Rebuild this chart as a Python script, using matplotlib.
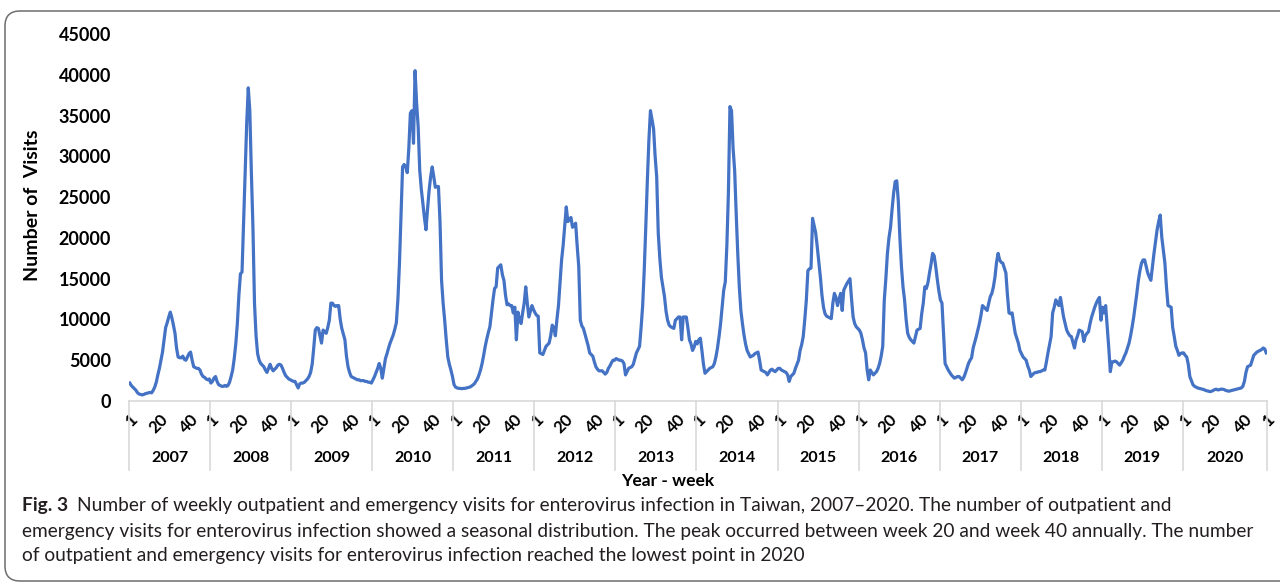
import numpy as np
import matplotlib.pyplot as plt
import matplotlib.transforms as mtransforms
from matplotlib.patches import FancyBboxPatch

plt.rcParams['font.family'] = ['Lato', 'DejaVu Sans']

# weekly outpatient + emergency visits
years = list(range(2007, 2021))

visits_2007 = [2200, 1900, 1700, 1500, 1300, 1000, 850, 800, 750, 800, 900, 950, 1000,
               1050, 1000, 1300, 1700, 2300, 3200, 4000, 5000, 6000, 7500, 9000, 9600, 10300,
               10900, 10200, 9300, 8300, 6500, 5400, 5300, 5300, 5500, 5100, 5000, 5400, 5800,
               6000, 5000, 4200, 4100, 4000, 4000, 3800, 3300, 3000, 2900, 2700, 2600, 2700]
visits_2008 = [2200, 2400, 2800, 3000, 2400, 2000, 1900, 1800, 1800, 1900, 1800, 1900, 2300,
               3000, 3800, 5200, 7000, 9500, 13000, 15600, 15800, 22000, 28000, 34000, 38400, 35600,
               28000, 21300, 12000, 8000, 5800, 5000, 4600, 4400, 4200, 3800, 3500, 4000, 4500,
               4000, 3700, 3900, 4100, 4400, 4500, 4400, 4000, 3500, 3100, 2900, 2700, 2600]
visits_2009 = [2500, 2400, 2400, 2000, 1600, 2100, 2200, 2200, 2300, 2500, 2700, 3000, 3500,
               4500, 6500, 8700, 9000, 8900, 8000, 7100, 8700, 8500, 8300, 9000, 9900, 12000,
               12000, 11700, 11600, 11700, 11700, 10000, 8900, 8200, 7500, 5500, 4200, 3500, 3000,
               2900, 2800, 2700, 2600, 2600, 2500, 2500, 2500, 2400, 2400, 2300, 2300, 2200]
visits_2010 = [2600, 3000, 3500, 4000, 4600, 4000, 2800, 4000, 5200, 5800, 6500, 7100, 7600,
               8100, 8800, 9600, 12500, 16900, 23000, 28700, 29000, 28700, 28000, 31000, 35300, 35600,
               31600, 40500, 36500, 33600, 28300, 26000, 24200, 22500, 21000, 23500, 25800, 27500, 28700,
               27500, 26200, 26300, 26300, 22000, 14800, 12000, 9900, 7500, 5400, 4500, 3800, 3000]
visits_2011 = [2000, 1700, 1600, 1550, 1550, 1500, 1550, 1550, 1600, 1650, 1700, 1800, 1950,
               2100, 2400, 2700, 3200, 3800, 4600, 5600, 6700, 7600, 8400, 9100, 10800, 12400,
               13800, 14000, 16300, 16500, 16700, 15500, 14800, 13000, 11800, 11900, 11700, 11700, 10800,
               11500, 7500, 10900, 10000, 9500, 10800, 12000, 14000, 12000, 10300, 11000, 11700, 11200]
visits_2012 = [10800, 10500, 10400, 5900, 5800, 5700, 6200, 6700, 6900, 7100, 8000, 9300, 9000,
               8000, 10000, 11700, 14500, 17300, 19100, 21500, 23800, 22000, 22300, 22500, 21300, 21500,
               21800, 19000, 16500, 9900, 9200, 8900, 8200, 7500, 6800, 5900, 5700, 5500, 4800,
               4200, 3900, 3700, 3700, 3700, 3500, 3300, 3500, 4000, 4300, 4700, 5000, 5000]
visits_2013 = [5200, 5100, 5000, 5000, 4900, 4600, 3200, 3600, 4000, 4100, 4200, 4500, 5200,
               5900, 6300, 6700, 9000, 11700, 16000, 21300, 27000, 32000, 35600, 34500, 33400, 30000,
               27500, 20600, 17500, 15200, 14000, 12800, 11000, 9900, 9300, 9100, 9000, 8900, 9900,
               10100, 10300, 10300, 7500, 10300, 10300, 10300, 9000, 7500, 7000, 6200, 6600, 7300]
visits_2014 = [7000, 7500, 7700, 6200, 4500, 3400, 3600, 3800, 4000, 4100, 4200, 4600, 5400,
               6500, 7900, 9500, 11500, 13600, 14600, 19000, 25500, 36100, 35600, 31000, 28300, 23000,
               18100, 14000, 11100, 9500, 8100, 7000, 6200, 5800, 5400, 5500, 5600, 5800, 5900,
               6000, 5000, 3800, 3700, 3600, 3500, 3200, 3500, 3800, 3900, 3700, 3600, 3800]
visits_2015 = [4000, 4000, 3800, 3700, 3600, 3500, 3200, 2400, 3000, 3200, 3400, 4000, 4500,
               5000, 6200, 6900, 7900, 10000, 12400, 16000, 16200, 16300, 22400, 21500, 20600, 18900,
               17000, 15200, 13000, 11500, 10700, 10400, 10300, 10200, 10100, 12000, 13200, 12700, 11700,
               12500, 13200, 11100, 13600, 14000, 14400, 14700, 15000, 12500, 10300, 9500, 9100, 8900]
visits_2016 = [8700, 8300, 7500, 6500, 5900, 3800, 2600, 3800, 3500, 3200, 3400, 3600, 4000,
               4600, 5500, 6700, 12400, 15000, 18100, 20000, 21300, 23500, 25500, 26900, 27000, 24500,
               20000, 16500, 14000, 12400, 10000, 8300, 7800, 7500, 7300, 7100, 7900, 8700, 8800,
               8900, 10700, 12000, 14000, 13800, 14500, 15700, 16800, 18100, 17800, 16500, 14900, 13500]
visits_2017 = [12400, 12000, 8300, 4600, 4200, 3800, 3500, 3200, 3000, 2800, 2900, 3000, 3000,
               2800, 2600, 2900, 3400, 4000, 4600, 5000, 5300, 6500, 7200, 7900, 8700, 9500,
               10500, 11700, 11500, 11300, 11100, 12000, 12800, 13200, 14000, 15200, 17000, 18100, 17300,
               17000, 16900, 16300, 15700, 13000, 10800, 10700, 10800, 9500, 8300, 7700, 7100, 6200]
visits_2018 = [5800, 5400, 5200, 5000, 4300, 3800, 3000, 3200, 3400, 3500, 3500, 3600, 3600,
               3700, 3800, 3800, 4800, 5900, 6900, 7900, 10800, 11500, 12400, 12000, 11700, 12700,
               11500, 10300, 9500, 8700, 8300, 8000, 7900, 7200, 6500, 7500, 8000, 8700, 8600,
               8500, 7300, 8000, 8300, 8500, 9500, 10300, 10900, 11500, 12000, 12400, 12700, 9900]
visits_2019 = [11500, 10800, 11700, 9100, 6500, 3600, 4800, 4800, 4900, 4800, 4600, 4400, 4700,
               5000, 5500, 5900, 6500, 7100, 8000, 9100, 10300, 11700, 13200, 14800, 16000, 16900,
               17300, 17300, 16500, 15700, 15200, 14800, 16500, 18100, 19500, 21000, 22000, 22800, 20100,
               18500, 16900, 14000, 11700, 11600, 11500, 9000, 7900, 6700, 6200, 5600, 5800, 5900]
visits_2020 = [5900, 5600, 5400, 4500, 3000, 2500, 2000, 1800, 1700, 1600, 1550, 1500, 1450,
               1400, 1300, 1250, 1200, 1150, 1200, 1300, 1400, 1450, 1350, 1400, 1450, 1450,
               1400, 1300, 1250, 1200, 1250, 1300, 1350, 1400, 1450, 1500, 1550, 1600, 1800,
               2400, 3500, 4200, 4300, 4400, 5000, 5600, 5800, 6000, 6100, 6200, 6300, 6500,
               6400, 5900]

yearly = [visits_2007, visits_2008, visits_2009, visits_2010, visits_2011, visits_2012,
          visits_2013, visits_2014, visits_2015, visits_2016, visits_2017, visits_2018,
          visits_2019, visits_2020]
tick_weeks = [1, 20, 40]
y_ticks = list(range(0, 45001, 5000))

caption_bold = "Fig. 3"
caption_lines = [
    "Number of weekly outpatient and emergency visits for enterovirus infection in Taiwan, 2007\u20132020. The number of outpatient and",
    "emergency visits for enterovirus infection showed a seasonal distribution. The peak occurred between week 20 and week 40 annually. The number",
    "of outpatient and emergency visits for enterovirus infection reached the lowest point in 2020",
]

values = np.concatenate(yearly)
x = np.arange(len(values))
starts = np.cumsum([0] + [len(v) for v in yearly])

W, H = 1280, 584
fig = plt.figure(figsize=(W / 100, H / 100), dpi=100)
ax = fig.add_axes([129 / W, (H - 401) / H, (1267 - 129) / W, (401 - 34) / H])

ax.plot(x, values, color='#4472C4', lw=2.3, solid_joinstyle='round')

ax.set_xlim(-0.5, len(values) - 0.5)
ax.set_ylim(0, 45000)
ax.set_yticks(y_ticks)
ax.set_yticklabels([str(v) for v in y_ticks], fontsize=13, fontweight='bold')
ax.tick_params(axis='y', length=0, pad=13, colors='black')

pos, labs = [], []
for s in starts[:-1]:
    for w in tick_weeks:
        pos.append(s + w - 1)
        labs.append(str(w))
pos.append(len(values) - 1)
labs.append('1')
ax.set_xticks(pos)
ax.set_xticklabels(labs, rotation=45, ha='right', va='top', rotation_mode='anchor',
                   fontsize=12, fontweight='bold')
ax.tick_params(axis='x', length=0, pad=7)

for sp in ['top', 'right', 'left']:
    ax.spines[sp].set_visible(False)
ax.spines['bottom'].set_color('#d9d9d9')
ax.spines['bottom'].set_linewidth(1.2)

trans = mtransforms.blended_transform_factory(ax.transData, ax.transAxes)
for b in starts:
    ax.plot([b - 0.5, b - 0.5], [0, -0.188], transform=trans, color='#d9d9d9',
            lw=1.2, clip_on=False)
for i, yr in enumerate(years):
    ax.text((starts[i] + starts[i + 1] - 1) / 2, -0.155, str(yr), transform=trans,
            ha='center', va='center', fontsize=11.5, fontweight='bold')

fig.text(668 / W, 1 - 481 / H, 'Year - week', ha='center', va='center',
         fontsize=12.5, fontweight='bold')
fig.text(33 / W, 1 - 205 / H, 'Number of  Visits', rotation=90, ha='center',
         va='center', fontsize=14, fontweight='bold')

# caption
cap_color = '#231f20'
cap_size = 13.8
t = fig.text(22 / W, 1 - 506 / H, caption_bold, ha='left', va='center',
             fontsize=cap_size, fontweight='bold', color=cap_color)
fig.canvas.draw()
bb = t.get_window_extent(fig.canvas.get_renderer())
fig.text((bb.x1 + 9) / W, 1 - 506 / H, caption_lines[0], ha='left', va='center',
         fontsize=cap_size, color=cap_color)
for i, line in enumerate(caption_lines[1:]):
    fig.text(22 / W, 1 - (531 + 25 * i) / H, line, ha='left', va='center',
             fontsize=cap_size, color=cap_color)

# rounded frame round the whole figure
frame = FancyBboxPatch((0.05, (H - 581) / 100), 12.9, (581 - 11) / 100,
                       boxstyle='round,pad=0,rounding_size=0.15',
                       transform=fig.dpi_scale_trans, fill=False,
                       edgecolor='#6e6e6e', lw=1.1)
fig.patches.append(frame)

fig.savefig('out.png', dpi=100)
